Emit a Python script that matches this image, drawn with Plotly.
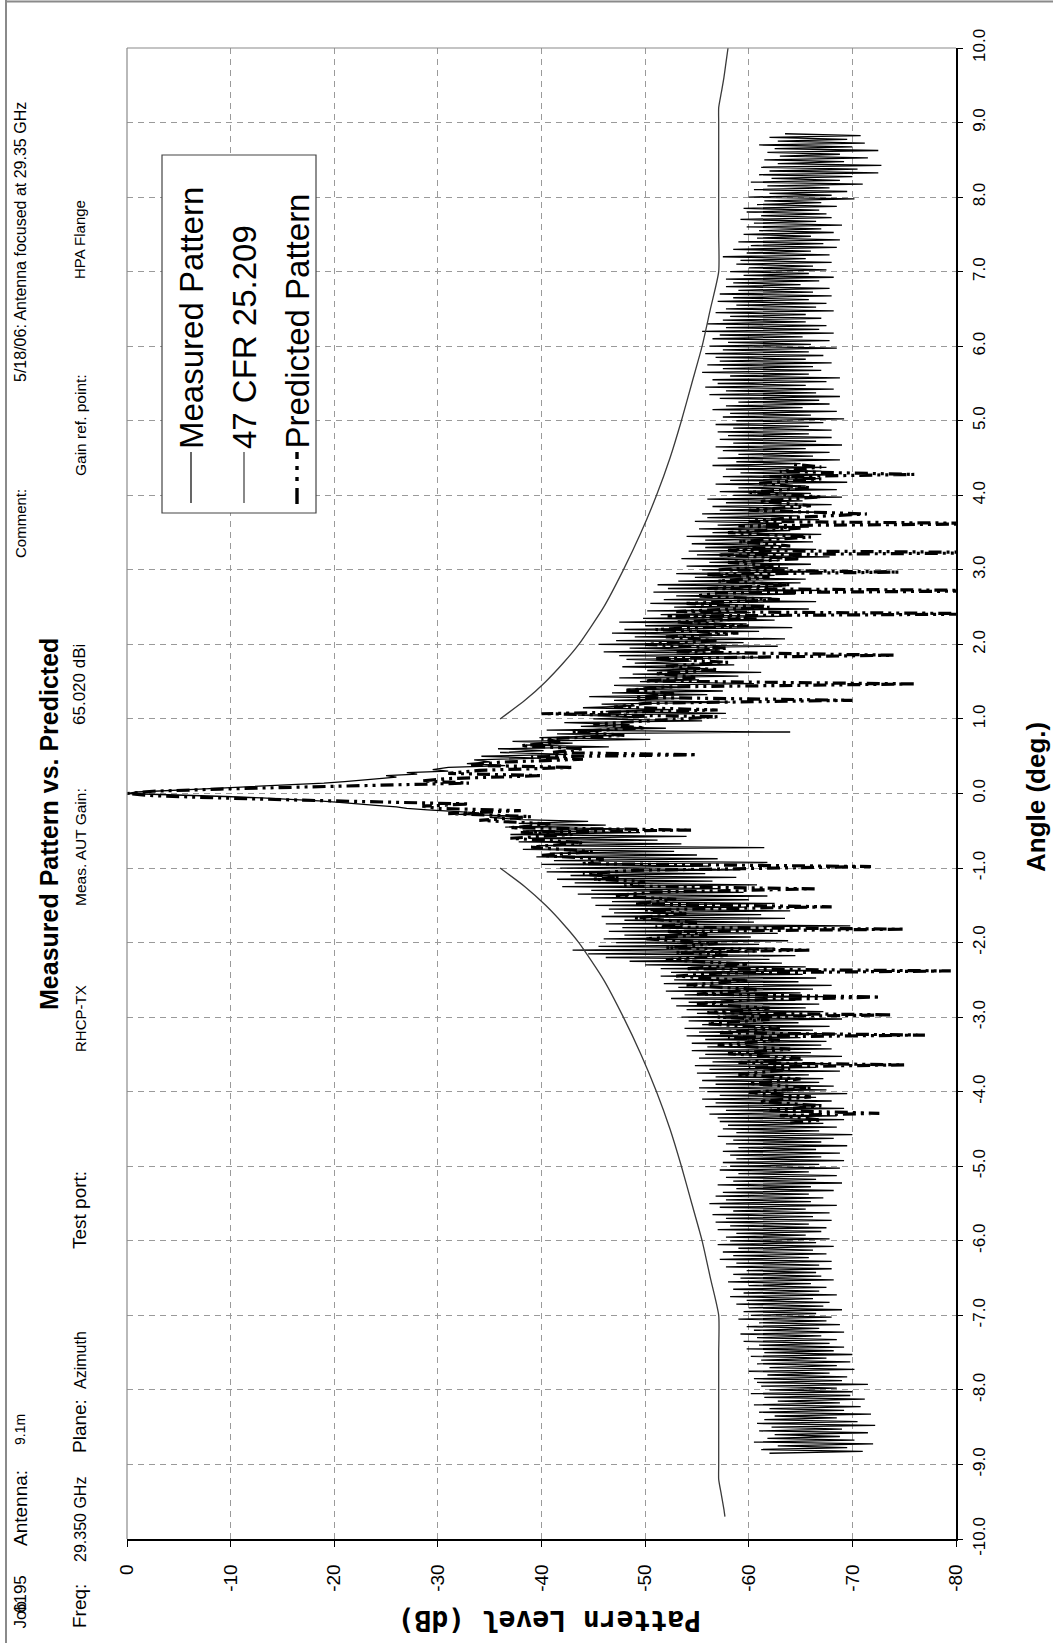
import plotly.graph_objects as go

# ---------------- data ----------------
# Measured azimuth cut, dB relative to beam peak, sampled every 0.025 deg
MEAS_STEP = 0.025
MEAS_LEFT_START = -8.85
meas_left_level = [
    -62.0, -71.0, -61.2, -69.5, -62.8, -72.0, -60.5, -70.2, -61.8, -68.8, -62.5, -71.5, -61.0, -69.0, -62.2, -72.2, -60.8, -70.5, -61.5, -68.5,
    -62.5, -71.8, -61.0, -69.2, -62.0, -70.8, -60.5, -68.8, -62.8, -71.2, -61.5, -69.8, -60.2, -70.0, -62.0, -68.5, -61.2, -71.5, -60.8, -69.0,
    -60.5, -69.5, -61.8, -67.8, -60.0, -70.2, -62.0, -68.5, -60.8, -69.8, -61.2, -67.5, -60.2, -70.0, -61.5, -68.2, -59.8, -69.2, -61.0, -67.8,
    -59.5, -68.5, -60.8, -67.0, -59.2, -69.2, -60.5, -66.8, -59.8, -68.8, -61.0, -67.5, -59.0, -68.0, -60.2, -66.5, -59.5, -69.0, -60.0, -67.2,
    -58.8, -67.8, -59.8, -66.2, -58.2, -68.5, -59.5, -66.8, -58.5, -67.5, -60.0, -66.0, -58.0, -68.2, -59.2, -67.0, -58.5, -66.5, -59.8, -68.0,
    -57.8, -66.8, -58.8, -68.0, -57.2, -65.8, -58.5, -67.5, -57.5, -66.2, -59.0, -68.2, -57.0, -66.5, -58.2, -67.8, -57.8, -65.5, -58.8, -67.0,
    -57.0, -67.5, -58.2, -65.8, -56.8, -68.0, -57.8, -66.2, -56.5, -67.8, -58.5, -65.5, -57.2, -68.5, -56.2, -66.0, -57.8, -67.2, -56.8, -65.8,
    -57.5, -68.2, -58.8, -66.0, -57.0, -69.0, -58.5, -66.5, -57.8, -68.5, -59.0, -65.8, -57.2, -68.8, -58.2, -66.8, -57.5, -69.2, -58.8, -67.0,
    -58.2, -68.8, -57.5, -66.5, -59.0, -69.5, -57.8, -67.0, -58.5, -68.2, -57.0, -70.0, -58.8, -66.8, -57.5, -68.5, -58.0, -67.2, -57.2, -69.2,
    -57.0, -68.5, -56.2, -66.0, -57.8, -69.2, -55.8, -67.0, -56.8, -68.0, -55.5, -66.5, -57.2, -69.5, -56.0, -67.5, -55.2, -68.2, -56.8, -66.8,
    -55.5, -67.2, -56.8, -65.8, -55.0, -68.8, -56.2, -66.5, -54.8, -67.8, -56.5, -65.2, -55.2, -69.0, -55.8, -66.0, -54.5, -68.0, -56.0, -67.0,
    -54.5, -67.5, -55.8, -65.0, -54.0, -68.5, -55.2, -66.2, -53.8, -67.8, -55.5, -64.8, -54.2, -69.0, -53.5, -66.0, -55.0, -67.2, -54.0, -65.5,
    -53.0, -66.8, -54.2, -64.5, -52.5, -67.5, -53.8, -65.0, -52.0, -66.2, -53.2, -68.0, -51.8, -64.8, -52.8, -66.5, -51.5, -65.2, -52.5, -67.0,
    -51.5, -65.5, -50.0, -63.2, -48.5, -62.0, -46.2, -64.5, -44.5, -60.8, -43.0, -62.5, -45.5, -61.0, -47.2, -63.8, -46.0, -60.2, -48.0, -62.8,
    -46.5, -62.0, -47.8, -69.8, -46.2, -60.5, -48.0, -63.5, -45.8, -61.2, -47.0, -64.0, -46.5, -59.8, -45.2, -62.5, -46.8, -60.0, -44.8, -61.8,
    -43.5, -59.5, -44.8, -57.2, -42.0, -60.8, -43.2, -56.5, -41.5, -58.8, -42.8, -55.8, -40.5, -59.2, -41.8, -56.2, -40.0, -61.8, -41.2, -57.0,
    -39.5, -55.0, -40.8, -52.8, -38.2, -61.5, -39.5, -53.5, -37.8, -51.2, -38.8, -54.0, -37.0, -49.5, -38.2, -48.0, -36.5, -46.2, -37.8, -44.5,
    -38.0,
]
meas_core_angle = [
    -0.32, -0.30, -0.28, -0.26, -0.24, -0.22, -0.20, -0.18, -0.16, -0.14, -0.12,
    -0.10, -0.08, -0.06, -0.04, -0.02, 0.0, 0.02, 0.04, 0.06, 0.08, 0.10,
    0.12, 0.14, 0.16, 0.18, 0.20, 0.22, 0.24, 0.26, 0.28, 0.30, 0.32,
]
meas_core_level = [
    -35.0, -37.0, -32.0, -34.0, -31.0, -29.0, -27.0, -26.0, -24.0, -22.5, -20.5,
    -18.5, -16.0, -13.0, -9.5, -4.0, 0.0, -1.0, -3.5, -7.0, -10.0, -13.5,
    -16.5, -19.0, -21.0, -23.0, -24.5, -26.0, -25.0, -28.0, -27.0, -31.0, -29.5,
]
MEAS_RIGHT_START = 0.35
meas_right_level = [
    -31.0, -36.5, -32.8, -35.0, -33.5, -39.8, -34.2, -42.5, -36.0, -40.2, -35.8, -46.5, -38.5, -43.0, -37.2, -50.5, -39.8, -47.0, -41.5, -64.0,
    -40.5, -52.0, -43.8, -48.5, -42.2, -55.5, -45.0, -50.2, -43.5, -57.8, -46.2, -52.5, -44.0, -49.0, -45.8, -58.2, -47.0, -53.8, -44.6, -56.0,
    -46.8, -57.5, -48.2, -54.0, -47.0, -60.5, -49.5, -55.2, -47.5, -59.0, -48.8, -61.2, -50.2, -56.0, -47.8, -58.6, -49.0, -54.5, -48.2, -61.8,
    -47.5, -60.0, -46.0, -57.2, -48.5, -62.8, -45.5, -59.5, -47.2, -63.5, -49.0, -58.0, -46.8, -61.0, -48.0, -64.2, -50.0, -59.8, -47.5, -62.5,
    -49.8, -63.0, -51.5, -60.2, -50.2, -65.8, -52.8, -61.5, -50.5, -66.5, -51.8, -62.2, -53.0, -64.5, -50.8, -67.0, -52.2, -63.2, -51.2, -65.0,
    -53.2, -65.5, -54.8, -62.5, -53.0, -67.2, -55.5, -63.8, -54.0, -66.0, -56.2, -62.8, -53.5, -67.8, -55.0, -64.2, -54.2, -66.5, -55.8, -63.0,
    -54.5, -66.2, -55.8, -63.5, -54.0, -67.0, -56.5, -64.0, -55.2, -65.8, -57.0, -63.2, -54.8, -66.8, -56.0, -64.8, -55.5, -67.2, -57.2, -65.0,
    -56.5, -68.0, -57.8, -65.2, -56.0, -69.0, -58.5, -66.0, -57.2, -68.5, -59.0, -65.5, -56.8, -69.5, -58.2, -66.8, -57.5, -68.2, -59.2, -67.0,
    -57.8, -67.5, -56.5, -65.0, -58.8, -68.8, -57.0, -66.2, -59.0, -67.8, -57.5, -65.5, -56.8, -69.0, -58.5, -66.5, -57.2, -68.0, -58.0, -65.8,
    -57.0, -68.0, -58.5, -65.8, -56.8, -67.2, -58.8, -69.2, -57.5, -66.0, -58.2, -68.5, -56.5, -65.2, -57.8, -67.8, -59.0, -66.8, -57.2, -68.8,
    -56.2, -66.5, -57.8, -68.2, -55.8, -65.5, -57.0, -67.5, -56.5, -68.8, -58.2, -65.8, -55.5, -67.0, -57.5, -66.2, -56.0, -68.0, -57.2, -65.5,
    -56.8, -67.2, -55.8, -65.8, -57.5, -68.5, -56.2, -66.0, -58.0, -67.8, -56.5, -65.2, -57.2, -68.2, -55.5, -66.8, -57.8, -67.5, -56.0, -65.5,
    -57.5, -67.0, -58.2, -65.5, -56.8, -68.2, -57.8, -66.5, -58.8, -67.5, -57.0, -65.8, -58.5, -68.0, -57.2, -66.2, -59.0, -67.8, -57.8, -65.0,
    -58.5, -66.8, -57.8, -68.2, -59.5, -65.8, -58.2, -67.5, -60.0, -66.2, -58.8, -68.0, -59.2, -65.5, -57.5, -67.8, -59.8, -66.0, -58.5, -68.5,
    -60.2, -67.2, -59.0, -68.8, -60.8, -66.0, -59.5, -68.2, -61.0, -67.0, -59.8, -69.0, -60.5, -66.5, -59.2, -68.0, -61.2, -67.5, -59.8, -66.8,
    -59.5, -68.5, -60.8, -67.0, -61.5, -70.2, -60.0, -68.0, -62.0, -69.5, -60.5, -67.8, -61.8, -71.0, -60.2, -68.8, -62.2, -70.0, -61.0, -72.5,
    -62.0, -70.5, -61.2, -72.8, -62.8, -69.2, -61.5, -71.5, -63.0, -68.8, -61.8, -72.5, -62.5, -70.0, -61.0, -71.2, -62.8, -69.5, -62.0, -70.8,
    -63.5,
]

# Predicted pattern (lobe peaks and nulls), dB
pred_angle = [
    -4.42, -4.38, -4.32, -4.29, -4.25, -4.19, -4.13, -4.07, -4.01, -3.95,
    -3.89, -3.83, -3.77, -3.70, -3.67, -3.64, -3.61, -3.55, -3.49, -3.43,
    -3.37, -3.31, -3.27, -3.24, -3.21, -3.15, -3.09, -3.03, -3.00, -2.97,
    -2.94, -2.88, -2.82, -2.77, -2.73, -2.69, -2.63, -2.57, -2.51, -2.45,
    -2.41, -2.38, -2.35, -2.29, -2.23, -2.17, -2.13, -2.10, -2.07, -2.01,
    -1.95, -1.89, -1.85, -1.82, -1.79, -1.73, -1.67, -1.61, -1.56, -1.52,
    -1.48, -1.42, -1.37, -1.32, -1.28, -1.24, -1.18, -1.15, -1.12, -1.08,
    -1.03, -0.98, -0.94, -0.88, -0.83, -0.78, -0.72, -0.66, -0.60, -0.55,
    -0.52, -0.49, -0.46, -0.41, -0.36, -0.31, -0.27, -0.23, -0.20, -0.17,
    -0.14, -0.12, -0.09, -0.06, -0.03, 0.0,
    0.03, 0.06, 0.09, 0.12, 0.14, 0.17, 0.20, 0.24, 0.27, 0.31,
    0.35, 0.38, 0.42, 0.46, 0.49, 0.52, 0.55, 0.60, 0.64, 0.69,
    0.73, 0.78, 0.83, 0.88, 0.93, 0.98, 1.03, 1.07, 1.12, 1.16,
    1.21, 1.25, 1.29, 1.34, 1.38, 1.43, 1.47, 1.51, 1.56, 1.61,
    1.66, 1.71, 1.76, 1.81, 1.855, 1.90, 1.95, 2.00, 2.05, 2.10,
    2.15, 2.20, 2.25, 2.30, 2.35, 2.38, 2.41, 2.44, 2.50, 2.55,
    2.60, 2.65, 2.69, 2.72, 2.75, 2.80, 2.85, 2.90, 2.94, 2.97,
    3.00, 3.05, 3.10, 3.15, 3.20, 3.23, 3.26, 3.32, 3.38, 3.44,
    3.50, 3.56, 3.59, 3.62, 3.65, 3.70, 3.75, 3.80, 3.86, 3.92,
    3.98, 4.04, 4.10, 4.16, 4.22, 4.25, 4.28, 4.32, 4.38, 4.42,
]
pred_level = [
    -64.0, -67.0, -63.0, -72.6, -62.0, -67.0, -61.0, -66.0, -60.0, -66.0,
    -60.0, -65.0, -59.0, -64.0, -60.0, -75.0, -59.0, -65.0, -58.0, -64.0,
    -57.0, -63.0, -58.0, -77.0, -57.0, -63.0, -56.0, -62.0, -57.0, -73.8,
    -56.0, -62.0, -55.0, -60.0, -72.7, -55.0, -61.0, -54.0, -60.0, -53.0,
    -57.0, -79.5, -54.0, -60.0, -52.0, -58.0, -53.0, -66.0, -52.0, -57.0,
    -50.0, -56.0, -52.0, -75.0, -51.0, -55.0, -49.0, -54.0, -50.0, -68.0,
    -49.0, -53.0, -47.0, -51.0, -66.6, -48.0, -50.0, -45.0, -47.5, -44.0,
    -49.0, -71.8, -44.0, -46.0, -40.0, -45.0, -39.0, -44.0, -37.0, -43.0,
    -38.0, -54.5, -37.0, -41.0, -34.0, -39.0, -31.0, -38.0, -30.0, -28.5,
    -33.0, -26.0, -17.0, -9.0, -2.5, 0.0,
    -2.5, -9.0, -17.0, -26.0, -33.0, -28.5, -31.0, -40.0, -31.0, -34.0,
    -43.0, -33.0, -36.0, -44.0, -39.0, -55.0, -41.0, -44.0, -38.0, -42.0,
    -40.0, -48.0, -43.0, -50.0, -45.0, -51.0, -57.0, -40.0, -57.0, -47.0,
    -50.0, -70.0, -49.0, -53.0, -48.0, -52.0, -76.0, -50.0, -55.0, -51.0,
    -57.0, -52.0, -58.0, -51.0, -74.0, -53.0, -58.0, -50.0, -57.0, -52.0,
    -59.0, -51.0, -60.0, -53.0, -61.0, -52.0, -86.0, -53.0, -62.0, -54.0,
    -63.0, -55.0, -57.0, -86.0, -56.0, -64.0, -57.0, -62.0, -56.0, -74.5,
    -57.0, -63.0, -58.0, -65.0, -57.0, -86.0, -58.0, -64.0, -59.0, -66.0,
    -58.0, -65.0, -59.0, -86.0, -60.0, -64.0, -71.4, -60.0, -66.0, -61.0,
    -67.0, -60.0, -66.0, -61.0, -67.0, -62.0, -76.0, -63.0, -67.0, -64.0,
]

# 47 CFR 25.209 off-axis envelope, referenced to the 65.020 dBi peak
cfr_right_angle = [1.0, 1.25, 1.5, 1.75, 2.0, 2.5, 3.0, 3.5, 4.0, 4.5, 5.0, 5.5,
                   6.0, 6.5, 7.0, 7.5, 8.0, 8.5, 9.0, 9.2, 9.4, 9.6, 9.8, 10.0]
cfr_right_level = [-36.0, -38.4, -40.4, -42.1, -43.6, -46.0, -47.9, -49.6, -51.1,
                   -52.4, -53.5, -54.5, -55.5, -56.3, -57.1, -57.1, -57.1, -57.1,
                   -57.1, -57.1, -57.35, -57.6, -57.8, -58.0]
cfr_left_angle = [-9.7, -9.6, -9.4, -9.2, -9.0, -8.5, -8.0, -7.5, -7.0, -6.5, -6.0,
                  -5.5, -5.0, -4.5, -4.0, -3.5, -3.0, -2.5, -2.0, -1.75, -1.5,
                  -1.25, -1.0]
cfr_left_level = [-57.7, -57.6, -57.35, -57.1, -57.1, -57.1, -57.1, -57.1, -57.1,
                  -56.3, -55.5, -54.5, -53.5, -52.4, -51.1, -49.6, -47.9, -46.0,
                  -43.6, -42.1, -40.4, -38.4, -36.0]

level_ticks = [0, -10, -20, -30, -40, -50, -60, -70, -80]
level_tick_text = ["0", "-10", "-20", "-30", "-40", "-50", "-60", "-70", "-80"]
angle_ticks = [-10, -9, -8, -7, -6, -5, -4, -3, -2, -1, 0, 1, 2, 3, 4, 5, 6, 7, 8, 9, 10]
angle_tick_text = ["-10.0", "-9.0", "-8.0", "-7.0", "-6.0", "-5.0", "-4.0", "-3.0",
                   "-2.0", "-1.0", "0.0", "1.0", "2.0", "3.0", "4.0", "5.0", "6.0",
                   "7.0", "8.0", "9.0", "10.0"]

# ---------------- assemble series ----------------
meas_angle = (
    [round(MEAS_LEFT_START + MEAS_STEP * i, 3) for i in range(len(meas_left_level))]
    + meas_core_angle
    + [round(MEAS_RIGHT_START + MEAS_STEP * i, 3) for i in range(len(meas_right_level))]
)
meas_level = meas_left_level + meas_core_level + meas_right_level

# ---------------- page geometry ----------------
W, H = 1053, 1643
ML, MR, MT, MB = 127, 97, 48, 104
PW, PH = W - ML - MR, H - MT - MB


def px(x):
    return (x - ML) / PW


def py(y):
    return 1 - (y - MT) / PH


SANS = "Liberation Sans, Arial, sans-serif"
NARROW = "Liberation Sans Narrow, Arial Narrow, Liberation Sans, Arial, sans-serif"

fig = go.Figure()
fig.add_trace(go.Scatter(x=meas_level, y=meas_angle, mode="lines",
                         line=dict(color="black", width=1.3), name="Measured Pattern"))
fig.add_trace(go.Scatter(x=cfr_right_level, y=cfr_right_angle, mode="lines",
                         line=dict(color="#3a3a3a", width=1.3, shape="spline", smoothing=0.6),
                         name="47 CFR 25.209"))
fig.add_trace(go.Scatter(x=cfr_left_level, y=cfr_left_angle, mode="lines",
                         line=dict(color="#3a3a3a", width=1.3, shape="spline", smoothing=0.6),
                         name="47 CFR 25.209", showlegend=False))
PRED_DASH = "13px,5px,3px,5px,3px,5px"
fig.add_trace(go.Scatter(x=pred_level, y=pred_angle, mode="lines",
                         line=dict(color="black", width=3.2, dash=PRED_DASH),
                         name="Predicted Pattern"))

fig.update_layout(
    width=W, height=H,
    margin=dict(l=ML, r=MR, t=MT, b=MB, pad=0, autoexpand=False),
    paper_bgcolor="white", plot_bgcolor="white",
    showlegend=False,
    font=dict(family=SANS, color="black"),
)
fig.update_xaxes(
    range=[0, -80], tickvals=level_ticks, ticktext=level_tick_text,
    tickangle=-90, tickfont=dict(size=19, family=SANS, color="black"),
    ticks="outside", ticklen=6, tickcolor="black", ticklabelstandoff=10,
    showline=True, linecolor="black", linewidth=1.5, mirror=False,
    showgrid=True, gridcolor="#9a9a9a", gridwidth=1, griddash="6px,5px",
    zeroline=False,
)
fig.update_yaxes(
    range=[-10, 10], tickvals=angle_ticks, ticktext=angle_tick_text, side="right",
    tickangle=-90, tickfont=dict(size=17, family=SANS, color="black"),
    ticks="outside", ticklen=5, tickcolor="black", ticklabelstandoff=2,
    showline=True, linecolor="black", linewidth=1.5, mirror=False,
    showgrid=True, gridcolor="#9a9a9a", gridwidth=1, griddash="6px,5px",
    zeroline=False,
)

shapes = []
# grey top and left edges of the plotting frame
shapes.append(dict(type="line", xref="paper", yref="paper", x0=0, x1=1, y0=1, y1=1,
                   line=dict(color="#8a8a8a", width=1.2)))
shapes.append(dict(type="line", xref="paper", yref="paper", x0=0, x1=0, y0=0, y1=1,
                   line=dict(color="#8a8a8a", width=1.2)))
# page border
shapes.append(dict(type="line", xref="paper", yref="paper", x0=px(6), x1=px(6),
                   y0=py(0), y1=py(H), line=dict(color="#8a8a8a", width=2)))
shapes.append(dict(type="line", xref="paper", yref="paper", x0=px(6), x1=px(W),
                   y0=py(1.5), y1=py(1.5), line=dict(color="#8a8a8a", width=2)))
# legend box
shapes.append(dict(type="rect", xref="paper", yref="paper", x0=px(162), x1=px(316),
                   y0=py(513), y1=py(155), line=dict(color="#444444", width=1.2),
                   fillcolor="white", layer="above"))
# legend samples
shapes.append(dict(type="line", xref="paper", yref="paper", x0=px(191), x1=px(191),
                   y0=py(503), y1=py(452), line=dict(color="black", width=1.2), layer="above"))
shapes.append(dict(type="line", xref="paper", yref="paper", x0=px(244), x1=px(244),
                   y0=py(503), y1=py(452), line=dict(color="#3a3a3a", width=1.2), layer="above"))
shapes.append(dict(type="line", xref="paper", yref="paper", x0=px(297), x1=px(297),
                   y0=py(504), y1=py(452), line=dict(color="black", width=3.4, dash="16px,7px,4px,7px,4px,7px"),
                   layer="above"))
fig.update_layout(shapes=shapes)


def vtext(text, x, y, size, yanchor="middle", bold=False, family=SANS, angle=-90):
    return dict(text=text, x=px(x), y=py(y), xref="paper", yref="paper",
                showarrow=False, textangle=angle, xanchor="center", yanchor=yanchor,
                font=dict(size=size, family=family, color="black",
                          weight="bold" if bold else "normal"))


ann = [
    # header block
    vtext("Job", 20, 1631, 17, yanchor="bottom"),
    vtext("6195", 20, 1573, 17, yanchor="top"),
    vtext("Antenna:", 20, 1508, 19),
    vtext("9.1m", 20, 1430, 14, family=NARROW),
    vtext("Comment:", 20, 524, 15),
    vtext("5/18/06: Antenna focused at 29.35 GHz", 20, 242, 16, family=NARROW),
    vtext("Freq:", 79, 1606, 19),
    vtext("29.350 GHz", 80, 1520, 16, family=NARROW),
    vtext("Plane:", 79, 1426, 19),
    vtext("Azimuth", 80, 1360, 16, family=NARROW),
    vtext("Test port:", 79, 1210, 19),
    vtext("RHCP-TX", 80, 1019, 15, family=NARROW),
    vtext("Meas. AUT Gain:", 80, 847, 15.5),
    vtext("65.020 dBi", 80, 685, 17, family=NARROW),
    vtext("Gain ref. point:", 80, 425, 15.5),
    vtext("HPA Flange", 80, 240, 15, family=NARROW),
    vtext("Measured Pattern vs. Predicted", 49, 824, 25, bold=True),
    # legend entries
    vtext("Measured Pattern", 191, 451, 33, yanchor="bottom"),
    vtext("47 CFR 25.209", 244, 451, 33, yanchor="bottom"),
    vtext("Predicted Pattern", 297, 451, 33, yanchor="bottom"),
    # axis titles
    vtext("Angle (deg.)", 1036, 797, 26, bold=True),
    vtext("Pattern Level (dB)", 550, 1621, 28, bold=True,
          family="DejaVu Sans Mono, Liberation Mono, monospace", angle=180),
]
fig.update_layout(annotations=ann)

fig.write_html("out.html")
